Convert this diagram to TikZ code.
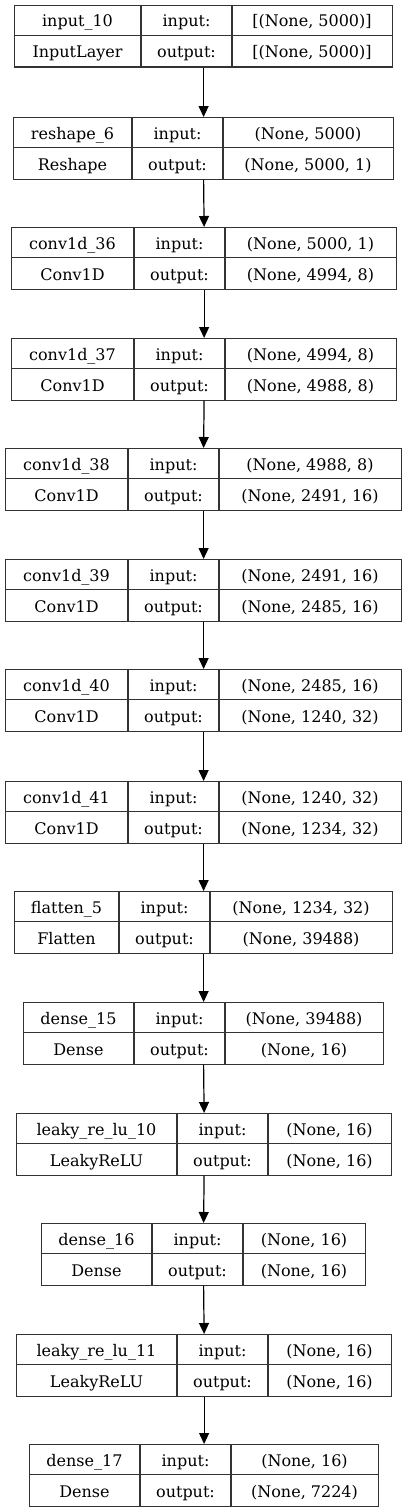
\documentclass[tikz,border=0pt]{standalone}
\usepackage{fontspec}
\setmainfont{DejaVu Serif}
\usetikzlibrary{arrows.meta}

\tikzset{
  cellline/.style={line width=1.2pt, draw=black!80},
  celltext/.style={anchor=base, inner sep=0pt, font=\fontsize{16}{19}\selectfont},
  flow/.style={line width=1.2pt, -{Triangle[width=10pt,length=11pt]}},
}

% one layer: id, top, left, first divider, right, name, type, input, output
\newcommand{\layer}[9]{
  \node[cellline, draw, anchor=north west, inner sep=0pt,
        minimum width={(#5-#3)*1pt}, minimum height=61.5pt] (#1) at (#3,#2) {};
  \draw[cellline] (#3,#2+30.75) -- (#5,#2+30.75);
  \draw[cellline] (#4,#2) -- (#4,#2+61.5);
  \draw[cellline] (#4+91,#2) -- (#4+91,#2+61.5);
  \node[celltext] (#1name) at ({(#3+#4)/2},#2+22) {#6};
  \node[celltext] (#1type) at ({(#3+#4)/2},#2+53) {#7};
  \node[celltext] (#1inl)  at (#4+45.5,#2+22) {input:};
  \node[celltext] (#1outl) at (#4+45.5,#2+53) {output:};
  \node[celltext] (#1in)   at ({(#4+91+#5)/2},#2+22) {#8};
  \node[celltext] (#1out)  at ({(#4+91+#5)/2},#2+53) {#9};
}

\begin{document}
\begin{tikzpicture}[x=1pt, y=-1pt]
  \useasboundingbox (0,0) rectangle (407,1512);
  % layers
  \layer{L1}{5}{14}{141}{392}{input\_10}{InputLayer}{[(None, 5000)]}{[(None, 5000)]}
  \layer{L2}{117}{13}{132}{393}{reshape\_6}{Reshape}{(None, 5000)}{(None, 5000, 1)}
  \layer{L3}{227}{11}{134}{396}{conv1d\_36}{Conv1D}{(None, 5000, 1)}{(None, 4994, 8)}
  \layer{L4}{338}{11}{134}{396}{conv1d\_37}{Conv1D}{(None, 4994, 8)}{(None, 4988, 8)}
  \layer{L5}{448}{5}{128}{401}{conv1d\_38}{Conv1D}{(None, 4988, 8)}{(None, 2491, 16)}
  \layer{L6}{559}{5}{128}{401}{conv1d\_39}{Conv1D}{(None, 2491, 16)}{(None, 2485, 16)}
  \layer{L7}{669}{5}{128}{401}{conv1d\_40}{Conv1D}{(None, 2485, 16)}{(None, 1240, 32)}
  \layer{L8}{781}{5}{128}{401}{conv1d\_41}{Conv1D}{(None, 1240, 32)}{(None, 1234, 32)}
  \layer{L9}{891}{14}{119}{392}{flatten\_5}{Flatten}{(None, 1234, 32)}{(None, 39488)}
  \layer{L10}{1002}{23}{134}{383}{dense\_15}{Dense}{(None, 39488)}{(None, 16)}
  \layer{L11}{1113}{16}{177}{391}{leaky\_re\_lu\_10}{LeakyReLU}{(None, 16)}{(None, 16)}
  \layer{L12}{1223}{41}{152}{365}{dense\_16}{Dense}{(None, 16)}{(None, 16)}
  \layer{L13}{1334}{16}{177}{391}{leaky\_re\_lu\_11}{LeakyReLU}{(None, 16)}{(None, 16)}
  \layer{L14}{1444}{29}{140}{378}{dense\_17}{Dense}{(None, 16)}{(None, 7224)}
  % arrows
  \foreach \a/\b in {L1/L2, L2/L3, L3/L4, L4/L5, L5/L6, L6/L7, L7/L8,
                     L8/L9, L9/L10, L10/L11, L11/L12, L12/L13, L13/L14}
    \draw[flow] (\a.south) -- (\b.north);
\end{tikzpicture}
\end{document}
